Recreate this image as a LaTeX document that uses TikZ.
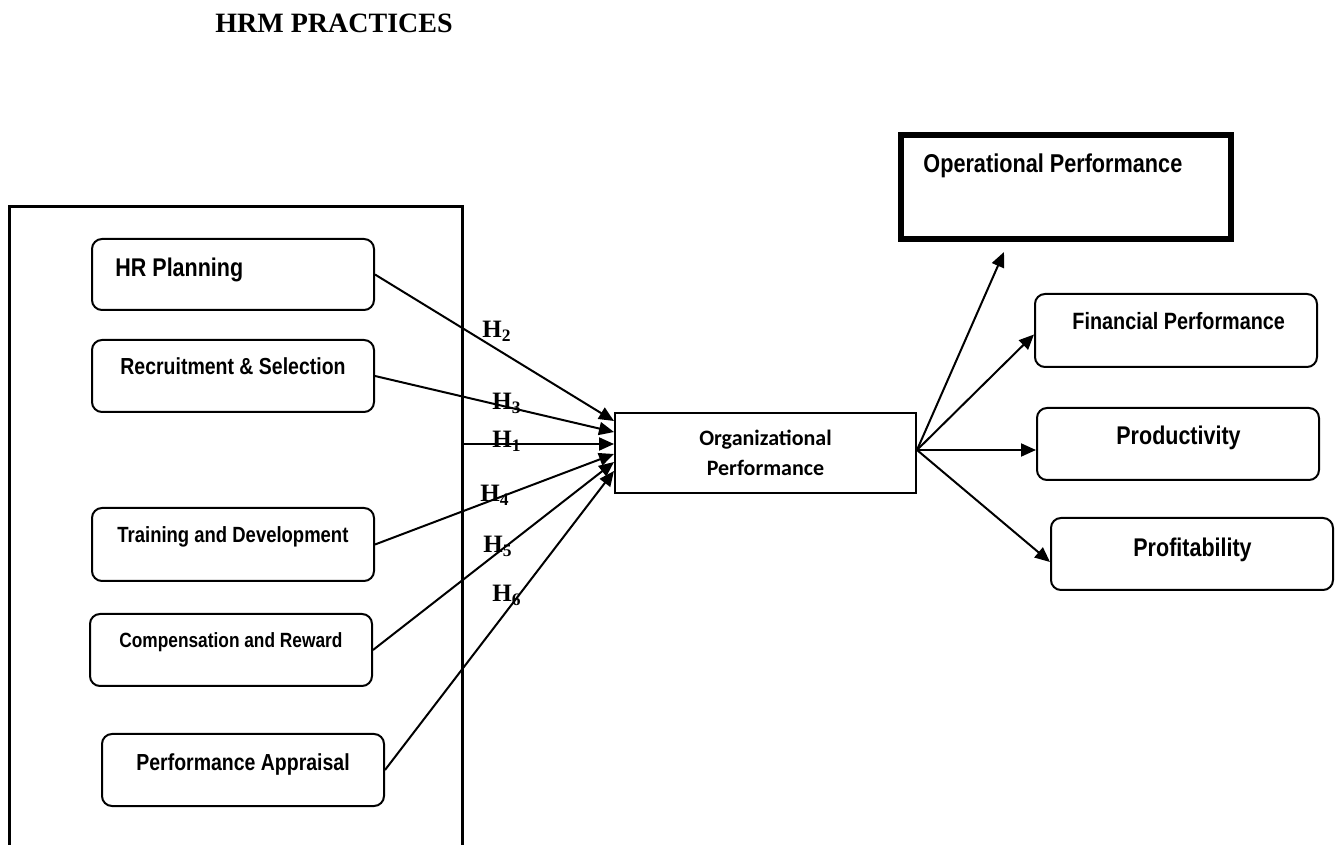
\documentclass[tikz,border=0pt]{standalone}
\usepackage{fontspec}
\newfontfamily\boxfont{Liberation Sans}[FakeStretch=0.84]
\newfontfamily\timesfont{Liberation Serif}
\newfontfamily\orgfont{Carlito}
\usetikzlibrary{arrows.meta,calc}
\begin{document}
\begin{tikzpicture}[x=0.5pt,y=-0.5pt,
  rbox/.style={draw, line width=1pt, rounded corners=5pt, inner sep=0pt,
    minimum width=141pt, minimum height=36pt},
  btxt/.style={anchor=base west, inner sep=0pt,
    font=\boxfont\bfseries\fontsize{#1}{#1}\selectfont},
  hlab/.style={anchor=base west, inner sep=0pt,
    font=\timesfont\bfseries\fontsize{12.5}{14}\selectfont},
  conn/.style={line width=1pt, -{Triangle[length=7.5pt,width=6.5pt]}},
]
\useasboundingbox (0,0) rectangle (1341,845);

% heading
\node[anchor=base west, inner sep=0pt,
      font=\timesfont\bfseries\fontsize{14}{16}\selectfont] (title) at (215,33) {HRM PRACTICES};

% frame around the practices (open at the bottom of the page)
\node[draw, line width=1.5pt, inner sep=0pt, minimum width=226.5pt,
      minimum height=346.5pt] (outer) at (235.5,553.5) {};

% practice boxes
\node[rbox, minimum height=35.5pt] (hrp) at (233,274.5) {};
\node[rbox] (rs)  at (233,376) {};
\node[rbox, minimum height=36.5pt] (td)  at (233,544.5) {};
\node[rbox] (cr)  at (231,650) {};
\node[rbox] (pa)  at (243,770) {};

\node[btxt=12.8] (thrp) at (115,277) {HR Planning};
\node[btxt=11.6] (trs)  at (120,375) {Recruitment \& Selection};
\node[btxt=11]   (ttd)  at (117,543) {Training and Development};
\node[btxt=10.3] (tcr)  at (119,647) {Compensation and Reward};
\node[btxt=11.6] (tpa)  at (136,770) {Performance Appraisal};

% central construct
\node[draw, line width=1pt, inner sep=0pt, minimum width=150.5pt,
      minimum height=40pt, align=center,
      font=\orgfont\bfseries\fontsize{11}{15}\selectfont] (org) at (765.5,453)
      {Organizational\\Performance};

% outcome boxes
\node[draw, line width=3pt, inner sep=0pt, minimum width=165pt,
      minimum height=52pt] (op) at (1066,187) {};
\node[btxt=12.9] (top) at (923,173) {Operational Performance};

\node[rbox, minimum height=36.5pt] (fin) at (1176,330.5) {};
\node[rbox] (prod) at (1178,444) {};
\node[rbox] (prof) at (1192,554) {};

\node[btxt=11.8] (tfin)  at (1072,330) {Financial Performance};
\node[btxt=12.8] (tprod) at (1116,445) {Productivity};
\node[btxt=12.8] (tprof) at (1133,557) {Profitability};

% arrow targets on the left side of the central box
\coordinate (in2) at ($(org.north west)+(0,9)$);
\coordinate (in3) at ($(org.north west)+(0,20)$);
\coordinate (in1) at ($(org.north west)+(0,32)$);
\coordinate (in4) at ($(org.north west)+(0,42)$);
\coordinate (in5) at ($(org.north west)+(0,50)$);
\coordinate (in6) at ($(org.north west)+(0,59)$);

\draw[conn] (hrp.east) -- (in2);
\draw[conn] (rs.east)  -- (in3);
\draw[conn] (outer.east |- in1) -- (in1);
\draw[conn] (td.east)  -- (in4);
\draw[conn] (cr.east)  -- (in5);
\draw[conn] (pa.east)  -- (in6);

% hypothesis labels
\node[hlab] (h2) at (482,338) {H\textsubscript{2}};
\node[hlab] (h3) at (492,410) {H\textsubscript{3}};
\node[hlab] (h1) at (492,448) {H\textsubscript{1}};
\node[hlab] (h4) at (480,502) {H\textsubscript{4}};
\node[hlab] (h5) at (483,553) {H\textsubscript{5}};
\node[hlab] (h6) at (492,602) {H\textsubscript{6}};

% outgoing arrows
\coordinate (src) at ($(org.east)+(0,-3)$);
\coordinate (opend) at (1004,252);
\draw[conn] (src) -- (opend);
\draw[conn] (src) -- ($(fin.west)+(0,4)$);
\draw[conn] (src) -- (prod.west |- src);
\draw[conn] (src) -- ($(prof.west)+(0,8)$);
\end{tikzpicture}
\end{document}
